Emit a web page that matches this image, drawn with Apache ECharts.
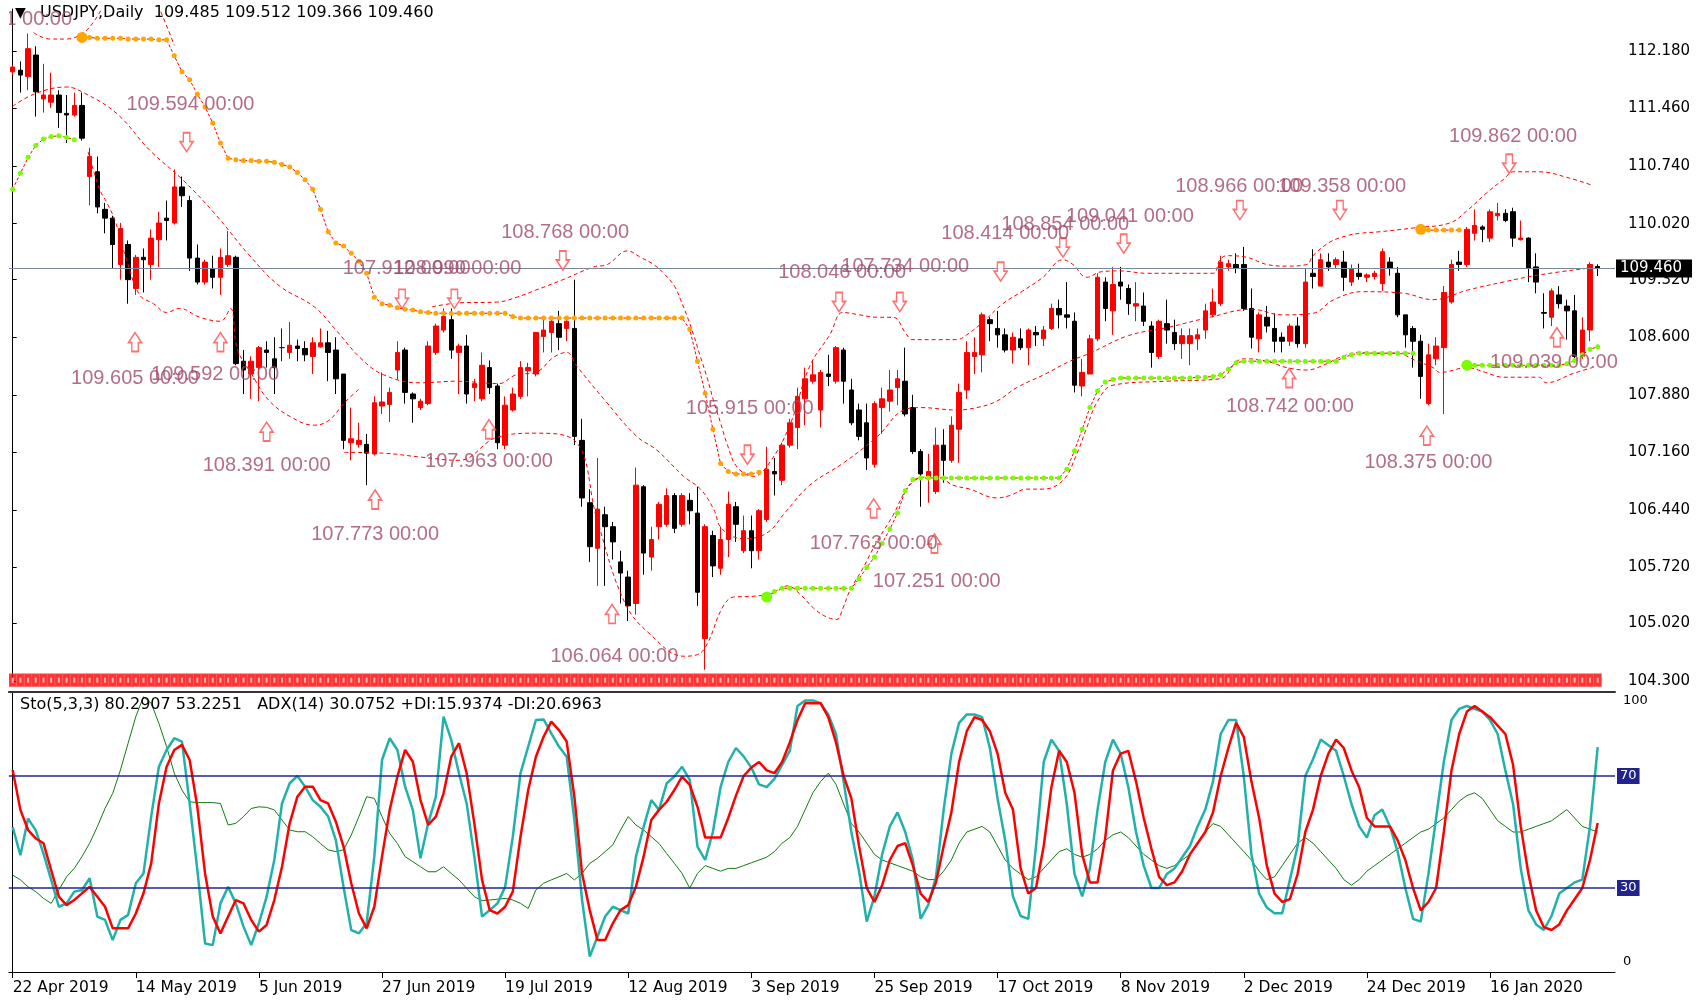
<!DOCTYPE html>
<html>
<head>
<meta charset="utf-8">
<script src="https://cdn.jsdelivr.net/npm/echarts@6/dist/echarts.min.js"></script>
<style>
  html, body { margin: 0; padding: 0; background: #fff; }
  #chart { width: 1704px; height: 1000px; }
</style>
</head>
<body>
<div id="chart"></div>
<script>
// --- data ---
const symbolTitle = 'USDJPY,Daily  109.485 109.512 109.366 109.460'
const indicatorTitle = 'Sto(5,3,3) 80.2907 53.2251   ADX(14) 30.0752 +DI:15.9374 -DI:20.6963'

const dateBars = [0, 16, 32, 48, 64, 80, 96, 112, 128, 144, 160, 176, 192]
const dateLabels = ['22 Apr 2019', '14 May 2019', '5 Jun 2019', '27 Jun 2019', '19 Jul 2019', '12 Aug 2019',
  '3 Sep 2019', '25 Sep 2019', '17 Oct 2019', '8 Nov 2019', '2 Dec 2019', '24 Dec 2019', '16 Jan 2020']

const priceTicks = [104.30, 105.02, 105.72, 106.44, 107.16, 107.88, 108.60, 109.32, 110.02, 110.74, 111.46, 112.18]
const lastPrice = 109.46
const stochLevels = [70, 30]
const bandLevel = 104.31

const opens = [
  111.92, 111.94, 111.86, 112.13, 111.58, 111.54, 111.63, 111.40, 111.38, 111.50,
  110.61, 110.67, 110.20, 110.09, 109.51, 109.76, 109.21, 109.60, 109.51, 109.82,
  110.09, 110.03, 110.48, 110.31, 109.59, 109.29, 109.46, 109.35, 109.51, 109.60,
  108.30, 108.14, 108.22, 108.44, 108.33, 108.47, 108.41, 108.49, 108.46, 108.36,
  108.48, 108.53, 108.44, 108.14, 107.28, 107.26, 107.26, 107.14, 107.74, 107.76,
  108.19, 108.44, 107.89, 107.72, 107.77, 108.41, 108.69, 108.82, 108.41, 108.49,
  107.97, 107.83, 108.22, 107.99, 107.25, 107.69, 107.86, 108.18, 108.14, 108.61,
  108.66, 108.77, 108.71, 108.71, 107.31, 106.53, 105.96, 106.38, 106.23, 105.79,
  105.60, 105.27, 106.73, 105.85, 106.23, 106.26, 106.62, 106.26, 106.56, 106.40,
  104.83, 106.12, 105.71, 106.07, 106.48, 105.93, 106.18, 105.93, 106.32, 106.92,
  106.81, 107.25, 107.47, 107.83, 108.05, 107.69, 108.14, 108.05, 108.44, 107.94,
  107.69, 107.53, 107.01, 107.72, 107.80, 107.97, 108.05, 107.72, 107.17, 106.86,
  106.67, 107.25, 107.06, 107.45, 107.94, 108.36, 108.38, 108.82, 108.71, 108.63,
  108.44, 108.58, 108.47, 108.66, 108.58, 108.71, 108.96, 108.88, 108.80, 107.99,
  108.14, 108.58, 109.29, 108.93, 109.29, 109.21, 108.99, 108.99, 108.74, 108.36,
  108.77, 108.66, 108.52, 108.52, 108.58, 108.69, 108.88, 109.02, 109.48, 109.51,
  109.51, 108.96, 108.58, 108.85, 108.71, 108.60, 108.55, 108.74, 108.52, 109.40,
  109.24, 109.54, 109.51, 109.54, 109.29, 109.40, 109.35, 109.36, 109.27, 109.54,
  109.40, 108.88, 108.71, 108.55, 107.77, 108.33, 108.47, 109.04, 109.54, 109.51,
  109.90, 109.98, 109.84, 110.12, 110.15, 110.17, 109.82, 109.84, 109.48, 108.91,
  108.85, 109.13, 108.99, 108.93, 108.36, 108.69, 109.485
]
const highs = [
  112.00, 112.05, 112.40, 112.24, 112.02, 111.91, 111.69, 111.63, 111.66, 111.66,
  110.97, 110.86, 110.28, 110.12, 110.03, 109.81, 109.63, 109.71, 109.95, 110.17,
  110.31, 110.70, 110.61, 110.37, 109.76, 109.57, 109.62, 109.71, 109.93, 109.62,
  108.44, 108.36, 108.49, 108.55, 108.60, 108.71, 108.79, 108.57, 108.55, 108.60,
  108.71, 108.68, 108.60, 108.14, 107.72, 107.53, 107.39, 107.86, 108.16, 107.97,
  108.55, 108.47, 107.91, 107.83, 108.55, 108.77, 108.96, 108.96, 108.52, 108.63,
  108.08, 108.41, 108.31, 108.02, 107.86, 107.97, 108.30, 108.28, 108.66, 108.85,
  108.85, 108.93, 108.85, 109.32, 107.58, 106.70, 107.09, 106.48, 106.29, 105.93,
  105.68, 106.97, 106.75, 106.23, 106.54, 106.71, 106.65, 106.65, 106.65, 106.73,
  106.26, 106.18, 106.23, 106.67, 106.54, 106.37, 106.37, 106.45, 107.23, 107.09,
  107.28, 107.58, 107.97, 108.22, 108.30, 108.19, 108.38, 108.49, 108.47, 108.08,
  107.77, 107.77, 107.80, 107.97, 108.19, 108.19, 108.47, 107.88, 107.20, 107.14,
  107.47, 107.45, 107.61, 108.02, 108.55, 108.60, 108.91, 108.85, 108.93, 108.71,
  108.66, 108.71, 108.71, 108.74, 108.74, 109.02, 109.07, 109.29, 108.91, 108.33,
  108.63, 109.40, 109.35, 109.48, 109.48, 109.26, 109.29, 109.16, 108.80, 108.82,
  109.07, 108.82, 108.71, 108.71, 108.71, 109.02, 109.21, 109.62, 109.57, 109.65,
  109.73, 109.21, 108.91, 108.99, 108.90, 108.66, 108.77, 108.85, 109.46, 109.70,
  109.65, 109.65, 109.60, 109.68, 109.51, 109.52, 109.40, 109.43, 109.71, 109.60,
  109.48, 108.88, 108.74, 108.63, 108.52, 108.60, 109.24, 109.57, 109.68, 109.98,
  110.20, 110.00, 110.20, 110.28, 110.20, 110.22, 110.06, 109.85, 109.65, 109.15,
  109.21, 109.24, 109.07, 109.13, 108.85, 109.54, 109.512
]
const lows = [
  111.88, 111.66, 111.69, 111.36, 111.41, 111.47, 111.22, 111.03, 111.36, 111.06,
  110.25, 110.15, 109.90, 109.46, 109.32, 109.02, 109.13, 109.16, 109.32, 109.48,
  109.81, 110.01, 110.23, 109.43, 109.26, 109.26, 109.21, 109.13, 109.48, 108.25,
  107.89, 107.83, 107.80, 108.22, 107.89, 108.30, 108.33, 108.30, 108.30, 108.14,
  108.47, 108.05, 107.89, 107.20, 107.06, 107.22, 106.75, 107.12, 107.64, 107.54,
  108.07, 107.77, 107.53, 107.69, 107.75, 108.38, 108.66, 108.33, 107.89, 107.77,
  107.80, 107.80, 107.89, 107.20, 107.20, 107.67, 107.83, 107.86, 108.11, 108.41,
  108.41, 108.44, 108.55, 107.25, 106.48, 105.79, 105.49, 105.49, 105.82, 105.27,
  105.05, 105.13, 105.63, 105.68, 106.07, 106.23, 106.15, 106.23, 106.26, 105.24,
  104.44, 105.60, 105.63, 105.85, 106.04, 105.90, 105.71, 105.82, 106.29, 106.62,
  106.75, 107.22, 107.20, 107.50, 108.02, 107.47, 107.99, 108.02, 107.77, 107.50,
  107.31, 106.94, 106.97, 107.39, 107.67, 107.75, 107.61, 107.14, 106.48, 106.53,
  106.64, 106.78, 107.03, 107.03, 107.83, 108.14, 108.16, 108.55, 108.47, 108.41,
  108.27, 108.44, 108.25, 108.49, 108.49, 108.69, 108.71, 108.71, 107.91, 107.86,
  108.14, 108.55, 108.80, 108.63, 109.07, 108.88, 108.80, 108.74, 108.22, 108.33,
  108.52, 108.44, 108.33, 108.25, 108.44, 108.58, 108.85, 108.99, 109.43, 109.40,
  108.93, 108.46, 108.41, 108.66, 108.41, 108.41, 108.49, 108.47, 108.47, 109.21,
  109.24, 109.43, 109.46, 109.18, 109.24, 109.32, 109.29, 109.32, 109.18, 109.37,
  108.85, 108.47, 108.22, 107.83, 107.75, 108.25, 107.64, 109.02, 109.43, 109.48,
  109.81, 109.79, 109.79, 110.06, 110.04, 109.73, 109.81, 109.29, 109.15, 108.71,
  108.74, 108.96, 108.57, 108.33, 108.33, 108.55, 109.366
]
const closes = [
  111.98, 111.88, 112.21, 111.67, 111.63, 111.63, 111.41, 111.38, 111.50, 111.09,
  110.86, 110.23, 110.09, 109.76, 109.96, 109.32, 109.60, 109.57, 109.84, 110.03,
  110.06, 110.48, 110.37, 109.59, 109.29, 109.54, 109.35, 109.60, 109.62, 108.27,
  108.19, 108.30, 108.47, 108.41, 108.22, 108.47, 108.50, 108.46, 108.38, 108.53,
  108.53, 108.41, 108.08, 107.31, 107.33, 107.31, 107.15, 107.78, 107.79, 107.91,
  108.41, 107.91, 107.83, 107.80, 108.49, 108.74, 108.86, 108.44, 108.49, 107.89,
  108.02, 108.25, 107.97, 107.28, 107.75, 107.89, 108.22, 108.22, 108.66, 108.69,
  108.80, 108.60, 108.80, 107.36, 106.59, 105.98, 106.45, 106.23, 106.04, 105.65,
  105.24, 106.75, 105.90, 106.07, 106.51, 106.62, 106.21, 106.62, 106.43, 105.41,
  106.23, 105.74, 106.07, 106.51, 106.26, 106.18, 105.93, 106.43, 106.95, 106.89,
  107.25, 107.53, 107.86, 108.08, 108.13, 108.16, 108.11, 108.47, 108.05, 107.53,
  107.36, 107.09, 107.77, 107.83, 107.94, 108.08, 107.64, 107.17, 106.89, 106.92,
  107.25, 107.06, 107.50, 107.91, 108.41, 108.41, 108.88, 108.77, 108.63, 108.44,
  108.60, 108.47, 108.69, 108.63, 108.69, 108.96, 108.88, 108.85, 108.00, 108.16,
  108.58, 109.35, 108.96, 109.26, 109.24, 109.02, 109.02, 108.80, 108.41, 108.80,
  108.69, 108.52, 108.62, 108.62, 108.63, 108.93, 109.04, 109.54, 109.52, 109.46,
  108.96, 108.60, 108.88, 108.74, 108.55, 108.55, 108.74, 108.52, 109.29, 109.36,
  109.57, 109.48, 109.57, 109.35, 109.46, 109.36, 109.38, 109.40, 109.67, 109.46,
  108.88, 108.63, 108.55, 108.11, 108.38, 108.49, 109.16, 109.51, 109.51, 109.95,
  110.00, 109.95, 110.17, 110.15, 110.06, 109.84, 109.84, 109.46, 109.29, 108.90,
  109.18, 109.02, 108.93, 108.36, 108.69, 109.51, 109.460
]

// trailing stop dots (resistance = orange, support = green), one value per bar
const resistSegments = [
  { start: 9, big: true, values: [
    112.35, 112.35, 112.34, 112.34, 112.34, 112.34, 112.33, 112.33, 112.33, 112.33, 112.32, 112.32,
    112.12, 111.92, 111.82, 111.64, 111.48, 111.28, 111.03, 110.84,
    110.82, 110.81, 110.81, 110.80, 110.80, 110.79,
    110.76, 110.73, 110.66, 110.57, 110.45, 110.20, 109.92, 109.78, 109.74, 109.65,
    109.55, 109.40, 109.10, 109.02, 109.00, 108.97, 108.95, 108.94, 108.92, 108.91,
    108.90, 108.90, 108.90, 108.90, 108.90, 108.90, 108.90, 108.90, 108.90, 108.90,
    108.86,
    108.84, 108.84, 108.84, 108.84, 108.84, 108.84, 108.84, 108.84, 108.84, 108.84, 108.84,
    108.84, 108.84, 108.84, 108.84, 108.84, 108.84, 108.84, 108.84, 108.84, 108.84, 108.84,
    108.70, 108.30, 107.90, 107.45, 107.02, 106.92, 106.89, 106.89, 106.89, 106.91] },
  { start: 183, big: true, values: [109.95, 109.94, 109.94, 109.94, 109.94, 109.94] }
]
const supportSegments = [
  { start: 0, big: false, values: [110.45, 110.65, 110.85, 111.00, 111.08, 111.11, 111.12, 111.10, 111.07] },
  { start: 98, big: true, values: [
    105.35, 105.42,
    105.46, 105.46, 105.46, 105.46, 105.46, 105.46, 105.46, 105.46, 105.46, 105.46,
    105.58, 105.72, 105.85, 106.02, 106.20, 106.40, 106.68, 106.82,
    106.84, 106.84, 106.84, 106.84, 106.84, 106.84, 106.84, 106.84, 106.84, 106.84,
    106.84, 106.84, 106.84, 106.84, 106.84, 106.84, 106.84, 106.84, 106.84,
    106.95, 107.18, 107.45, 107.72, 107.93, 108.04, 108.07,
    108.09, 108.09, 108.09, 108.09, 108.09, 108.09, 108.09, 108.09, 108.09, 108.09, 108.10, 108.10, 108.11,
    108.13, 108.20, 108.28,
    108.30, 108.30, 108.30, 108.30, 108.30, 108.30, 108.30, 108.30, 108.30, 108.30, 108.30, 108.30, 108.30,
    108.35, 108.38,
    108.40, 108.40, 108.40, 108.40, 108.40, 108.40, 108.40, 108.40] },
  { start: 189, big: true, values: [
    108.25, 108.25, 108.25, 108.25, 108.25, 108.25, 108.25, 108.25, 108.25, 108.25, 108.25, 108.25, 108.25,
    108.27, 108.31, 108.38, 108.45, 108.48] }
]

// dashed channel lines, knots as [bar, price]
const bandLines = [
  [[0, 111.49], [3, 111.65], [7, 111.73], [9.2, 111.66], [13.5, 111.40], [17.8, 110.94], [22.2, 110.56],
   [26.5, 110.12], [30.8, 109.62], [34.7, 109.24], [39.2, 108.98], [42.1, 108.68], [45.1, 108.35],
   [48.2, 108.13], [53, 108.03], [57.7, 108.05], [63.2, 108.02], [65.4, 108.13], [68, 108.16],
   [70.3, 108.35], [72, 108.41], [73.3, 108.24], [76.8, 107.83], [81.1, 107.36], [83.7, 107.19],
   [87.2, 106.86], [89.4, 106.70], [91.1, 106.45], [92.2, 106.20], [95, 106.08], [98, 106.15],
   [100.5, 106.42], [103.6, 106.75], [108, 107.03], [112.4, 107.36], [115.8, 107.69], [118, 107.72],
   [122.7, 107.69], [125.3, 107.72], [127.9, 107.80], [130.5, 107.97], [134, 108.13], [137.4, 108.30],
   [140, 108.40], [145, 108.62], [150, 108.72], [155.6, 108.85], [161, 108.95], [165, 108.88],
   [169, 108.90], [171.7, 109.07], [175.4, 109.17], [180.8, 109.15], [184.6, 109.07], [189.1, 109.19],
   [193.7, 109.29], [198.4, 109.38], [205.3, 109.47]],
  [[54.5, 108.98], [58, 109.03], [63, 109.04], [65.5, 109.10], [68, 109.19], [71.5, 109.32],
   [75.5, 109.48], [77.3, 109.51], [79.9, 109.68], [81.6, 109.60], [83.3, 109.51], [84.6, 109.40],
   [86, 109.24], [86.8, 109.07], [87.7, 108.85], [88.5, 108.63], [89.4, 108.35], [90.3, 108.08],
   [91.1, 107.80], [92, 107.53], [92.9, 107.25], [94.2, 106.97], [96.3, 106.86], [98.5, 107.05],
   [101, 107.5], [103.6, 108.24], [106.2, 108.63], [107.9, 108.91], [110.1, 108.88], [112.3, 108.85],
   [114.4, 108.85], [116.2, 108.63], [117, 108.57], [120.1, 108.57], [122.7, 108.57], [124, 108.63],
   [126.1, 108.79], [128.7, 109.02], [131.3, 109.18], [133.9, 109.35], [136.5, 109.57], [137.8, 109.51],
   [139.6, 109.35], [141.5, 109.42], [143.9, 109.43], [147.4, 109.40], [151.7, 109.40], [156, 109.40],
   [156.9, 109.57], [157.8, 109.62], [160.4, 109.60], [163, 109.51], [165.6, 109.49], [168.2, 109.51],
   [169, 109.62], [171.2, 109.79], [173.4, 109.87], [175.1, 109.90], [177.7, 109.92], [182.3, 109.97],
   [186.8, 110.03], [189.1, 110.19], [191.5, 110.40], [193.7, 110.57], [195.1, 110.67], [198.4, 110.67],
   [202, 110.60], [205.3, 110.50]],
  [[9.8, 110.92], [11.3, 110.45], [12.2, 110.29], [13.3, 110.06], [14.8, 109.57], [16.5, 109.13],
   [18.3, 109.02], [20, 108.91], [21.7, 108.96], [24.3, 108.85], [27, 108.80], [28.3, 108.96],
   [29.2, 108.45], [31, 108.15], [33.2, 107.82], [36.2, 107.60], [39.2, 107.50], [41.1, 107.56],
   [43.1, 107.78], [45, 107.95]],
  [[43.1, 107.16], [48.1, 107.15], [53.1, 107.10], [58, 107.06], [63, 107.35], [68, 107.40], [73, 107.31],
   [76, 106.30], [79.6, 105.27], [82.9, 104.88], [87.2, 104.61], [89, 104.63], [90.3, 104.77],
   [92.2, 105.21], [93.7, 105.35], [96.3, 105.36], [98.9, 105.40], [100.7, 105.49], [102.4, 105.38],
   [104.1, 105.21], [105.8, 105.10], [107.1, 105.07], [107.9, 105.21], [108.8, 105.43], [110.5, 105.71],
   [112.3, 106.04], [114.4, 106.37], [116.2, 106.70], [117.9, 106.84], [120.1, 106.86], [122.2, 106.75],
   [124.4, 106.70], [127.9, 106.59], [129.6, 106.62], [131.8, 106.70], [133.9, 106.70], [136.5, 106.81],
   [138.3, 107.14], [139.6, 107.47], [141, 107.80], [143, 108.00], [150, 108.05], [156.9, 108.08],
   [159.1, 108.30], [160.4, 108.33], [163, 108.30], [165.6, 108.22], [168.2, 108.19], [170.8, 108.27],
   [172.5, 108.35], [175.1, 108.41], [177.2, 108.40], [179.9, 108.40], [182.3, 108.31], [184.6, 108.22],
   [185.5, 108.16], [189.1, 108.22], [191.4, 108.16], [193.7, 108.10], [198.4, 108.10], [199.3, 108.03],
   [202.9, 108.15], [205.3, 108.22]],
  [[2.7, 112.41], [4.85, 112.33], [7, 112.33], [9.2, 112.41], [10.7, 112.57], [11.8, 112.75]],
  [[18.9, 112.75], [20.2, 112.45], [21, 112.25]]
]

// fractal arrows [bar, price]
const arrowsDown = [[22.6, 111.04], [50.6, 109.08], [57.4, 109.08], [71.5, 109.56], [95.5, 107.13],
  [107.4, 109.04], [115.3, 109.04], [128.4, 109.42], [136.5, 109.72], [144.4, 109.77],
  [159.5, 110.19], [172.5, 110.19], [194.5, 110.77]]
const arrowsUp = [[15.9, 108.54], [27, 108.54], [33, 107.42], [47.1, 106.57], [61.9, 107.45],
  [77.9, 105.14], [111.9, 106.46], [119.8, 106.02], [165.9, 108.09], [183.8, 107.37], [200.7, 108.60]]
// fractal text labels [bar, price, text]
const fractalLabels = [
  [-0.5, 112.57, '112.401 00:00'],
  [23.1, 111.51, '109.594 00:00'], [15.9, 108.09, '109.605 00:00'], [26.3, 108.13, '109.592 00:00'],
  [33, 107.00, '108.391 00:00'], [47.1, 106.13, '107.773 00:00'], [51.2, 109.46, '107.912 00:00'],
  [57.8, 109.46, '108.990 00:00'], [61.9, 107.04, '107.963 00:00'], [71.8, 109.91, '108.768 00:00'],
  [78.2, 104.61, '106.064 00:00'], [95.8, 107.71, '105.915 00:00'], [107.8, 109.41, '108.046 00:00'],
  [116, 109.49, '107.734 00:00'], [111.9, 106.02, '107.763 00:00'], [120.1, 105.55, '107.251 00:00'],
  [129, 109.90, '108.414 00:00'], [136.8, 110.01, '108.854 00:00'], [145.2, 110.11, '109.041 00:00'],
  [159.4, 110.48, '108.966 00:00'], [172.8, 110.49, '109.358 00:00'], [166, 107.73, '108.742 00:00'],
  [195, 111.11, '109.862 00:00'], [184, 107.03, '108.375 00:00'], [200.3, 108.28, '109.039 00:00']
]

const stochMain = [
  51.8, 41.7, 54.8, 50.6, 42.3, 32.9, 23.3, 24.5, 28.7, 29.3,
  33.5, 19.8, 18.6, 11.4, 18.6, 20.4, 31.7, 35.2, 55.5, 73.3,
  79.3, 83.5, 82.3, 60.2, 36.4, 10.2, 9.6, 24.5, 30.4, 24.5,
  16.2, 9.6, 17.4, 26.9, 40.0, 60.2, 67.4, 70.0, 66.2, 61.4,
  59.0, 55.5, 47.1, 30.4, 15.0, 13.8, 17.4, 41.2, 75.7, 83.5,
  79.3, 66.2, 57.9, 40.6, 53.1, 62.6, 91.2, 82.9, 71.0, 60.2,
  41.2, 19.8, 22.1, 24.5, 30.4, 48.3, 71.0, 80.5, 90.0, 90.2,
  85.2, 80.5, 76.9, 54.3, 25.7, 5.5, 12.6, 19.8, 23.3, 22.1,
  20.9, 41.2, 51.8, 61.4, 57.9, 67.4, 69.8, 73.3, 68.6, 44.8,
  40, 50, 66, 75, 80, 77, 73, 67, 66, 69,
  74, 79, 95, 97, 97, 96, 92, 85, 68, 50,
  36, 18, 27, 42, 52, 57, 50, 40, 19, 24,
  34, 58, 78, 89, 92, 92, 91, 80, 62, 47,
  27, 20, 19, 45, 75, 83, 79, 60, 35, 27,
  37, 58, 75, 83, 78, 66, 50, 38, 30, 30,
  35, 37, 41, 45, 52, 58, 68, 85, 90, 90,
  70, 42, 28, 23, 21, 21, 33, 45, 70, 76,
  83, 81, 79, 70, 60, 52, 48, 56, 58, 52,
  43, 30, 19, 18, 35, 55, 75, 90, 94, 95,
  94, 93, 90, 85, 72, 60, 37, 22, 17, 15,
  20, 28, 30, 32, 33, 52, 80.29
]
const stochSignal = [
  72.1, 57.9, 50.7, 47.7, 46.0, 36.4, 26.9, 23.9, 25.7, 28.1,
  30.4, 26.9, 23.3, 15.6, 15.6, 15.6, 20.9, 28.1, 38.8, 60.2,
  73.3, 79.3, 81.1, 75.7, 59.0, 35.2, 19.8, 13.8, 19.8, 25.7,
  24.5, 18.6, 14.4, 16.8, 25.7, 37.6, 53.1, 62.6, 66.2, 66.2,
  61.4, 60.2, 53.7, 44.8, 31.7, 20.9, 15.6, 23.3, 41.2, 57.9,
  69.8, 79.3, 75.2, 61.4, 52.5, 55.5, 63.8, 76.9, 81.7, 71.0,
  53.1, 32.9, 22.1, 20.9, 23.3, 28.7, 48.3, 65.0, 76.9, 84.0,
  89.4, 86.4, 82.3, 62.6, 35.2, 22.1, 11.4, 11.4, 17.4, 22.1,
  23.9, 30.4, 41.2, 54.3, 57.9, 60.8, 65.0, 69.8, 66.8, 59.0,
  48, 48, 48, 55, 63, 70, 73, 75, 72, 71,
  75, 82, 90, 96, 96, 96, 91, 82, 70, 62,
  45, 30, 25, 31, 40, 45, 46, 38, 28, 25,
  32, 45, 57, 75, 86, 91, 90, 86, 78, 64,
  58, 37, 28, 30, 45, 66, 79, 75, 64, 42,
  32, 32, 48, 72, 78, 79, 68, 55, 44, 34,
  31, 32, 36, 42, 46, 50, 57, 70, 80, 89,
  84, 68, 55, 38, 28, 25, 26, 35, 50, 58,
  70, 78, 83, 80, 72, 66, 55, 52, 52, 52,
  47, 40, 30, 22, 25, 30, 50, 72, 85, 93,
  95, 93, 91, 88, 85, 74, 52, 35, 22, 16,
  15, 17, 22, 26, 30, 40, 53.23
]
const adxLine = [
  34.6, 32.9, 30.4, 28.7, 26.3, 24.5, 29.3, 34.0, 37.0, 41.2,
  46.0, 51.9, 58.4, 63.8, 72.1, 81.7, 91.2, 98.3, 96.0, 88.8,
  80.5, 71.0, 65.0, 60.8, 60.5, 60.5, 60.5, 60.2, 52.5, 53.1,
  55.5, 58.4, 59.0, 58.8, 57.9, 54.3, 50.7, 50.1, 50.1, 48.3,
  45.9, 43.6, 43.0, 43.6, 48.9, 55.5, 62.6, 62.0, 55.5, 49.5,
  45.9, 41.2, 39.4, 37.6, 35.8, 35.8, 37.6, 35.2, 32.9, 29.9,
  26.9, 25.5, 25.7, 26.0, 26.3, 25.7, 24.5, 22.7, 29.3, 31.7,
  32.9, 34.0, 35.2, 32.9, 35.2, 38.8, 40.6, 43.0, 45.4, 50.7,
  55.5, 52.5, 50.7, 48.3, 45.9, 42.3, 38.8, 35.2, 29.9, 35.2,
  38, 37, 36, 37, 37, 38, 39, 40, 41, 43,
  46, 48, 52, 58, 64, 68, 71, 67, 60, 53,
  50, 46, 42, 40, 39, 38, 37, 36, 34, 33,
  33, 36, 40, 46, 50, 51, 52, 50, 45, 40,
  37, 35, 33, 34, 37, 40, 43, 44, 42, 41,
  42, 44, 47, 49, 50, 48, 45, 42, 40, 38,
  37, 38, 40, 42, 46, 50, 53, 52, 49, 46,
  43, 40, 36, 33, 34, 38, 42, 46, 48, 46,
  43, 40, 37, 33, 31, 33, 36, 38, 40, 42,
  44, 46, 48, 50, 51, 53, 55, 58, 61, 63,
  64, 62, 58, 54, 52, 50, 50, 51, 52, 53,
  54, 56, 58, 55, 52, 51, 50
]

// --- chart ---
const chart = echarts.init(document.getElementById('chart'))
const FONT = 'DejaVu Sans'
const X_MIN = -0.5
const X_MAX = 208.25

const candleData = opens.map((o, i) => {
  const item = { value: [i, o, closes[i], lows[i], highs[i]] }
  if (o === closes[i]) {
    item.itemStyle = { color: '#0000ff', color0: '#0000ff', borderColor: '#0000ff', borderColor0: '#0000ff' }
  }
  return item
})

const downArrow = 'path://M3,0 L9,0 L9,8 L12,8 L6,17 L0,8 L3,8 Z'

const series = []

// red marker strip at the foot of the price pane
series.push({
  type: 'scatter', xAxisIndex: 0, yAxisIndex: 0, silent: true, clip: false, z: 1,
  symbol: 'rect', symbolSize: [7.7, 13],
  itemStyle: { color: '#ff0000', borderColor: '#ff6a6a', borderWidth: 0.6 },
  data: opens.map((_, i) => [i, bandLevel])
})
series.push({
  type: 'scatter', xAxisIndex: 0, yAxisIndex: 0, silent: true, clip: false, z: 1,
  symbol: 'rect', symbolSize: [2, 5],
  itemStyle: { color: '#ffd0d0' },
  data: opens.map((_, i) => [i, bandLevel])
})

series.push({
  type: 'candlestick', xAxisIndex: 0, yAxisIndex: 0, z: 3,
  barWidth: 5,
  encode: { x: 0, y: [1, 2, 3, 4] },
  itemStyle: { color: '#ff0000', color0: '#000000', borderColor: '#ff0000', borderColor0: '#000000', borderWidth: 1 },
  data: candleData,
  markLine: {
    silent: true, symbol: 'none',
    lineStyle: { color: '#778899', type: 'solid', width: 1 },
    label: {
      show: true, position: 'end', distance: 1,
      formatter: lastPrice.toFixed(3),
      backgroundColor: '#000', color: '#fff', fontFamily: FONT, fontSize: 15, padding: [2, 10, 1, 4]
    },
    data: [{ yAxis: lastPrice }]
  }
})

bandLines.forEach((pts) => {
  series.push({
    type: 'line', xAxisIndex: 0, yAxisIndex: 0, z: 4, silent: true,
    smooth: 0.4, symbol: 'none',
    lineStyle: { color: '#ff0000', width: 1, type: [4, 3] },
    data: pts
  })
})

function trailSeries (seg, dotColor) {
  return {
    type: 'line', xAxisIndex: 0, yAxisIndex: 0, z: 5, silent: true,
    symbol: 'circle',
    symbolSize: (v, p) => (seg.big && p.dataIndex === 0 ? 11 : 5),
    itemStyle: { color: dotColor },
    lineStyle: { color: '#ff0000', width: 1, type: [3, 2] },
    data: seg.values.map((v, k) => [seg.start + k, v])
  }
}
resistSegments.forEach((s) => series.push(trailSeries(s, '#ffa500')))
supportSegments.forEach((s) => series.push(trailSeries(s, '#7cfc00')))

series.push({
  type: 'scatter', xAxisIndex: 0, yAxisIndex: 0, z: 6, silent: true, clip: false,
  symbol: downArrow, symbolSize: [13, 19],
  itemStyle: { color: '#ffffff', borderColor: '#ff4d4d', borderWidth: 1.6 },
  data: arrowsDown
})
series.push({
  type: 'scatter', xAxisIndex: 0, yAxisIndex: 0, z: 6, silent: true, clip: false,
  symbol: downArrow, symbolSize: [13, 19], symbolRotate: 180,
  itemStyle: { color: '#ffffff', borderColor: '#ff4d4d', borderWidth: 1.6 },
  data: arrowsUp
})
series.push({
  type: 'scatter', xAxisIndex: 0, yAxisIndex: 0, z: 7, silent: true, clip: false,
  symbolSize: 0,
  label: {
    show: true, position: 'inside', formatter: '{b}',
    color: '#a04a66', fontFamily: 'Liberation Sans', fontSize: 20
  },
  data: fractalLabels.map(([x, y, t]) => ({ value: [x, y], name: t }))
})

// stochastic / ADX pane
series.push({
  type: 'line', xAxisIndex: 1, yAxisIndex: 1, z: 2, silent: true, symbol: 'none',
  lineStyle: { color: '#137a13', width: 1 },
  data: adxLine.map((v, i) => [i, v])
})
series.push({
  type: 'line', xAxisIndex: 1, yAxisIndex: 1, z: 3, silent: true, symbol: 'none',
  lineStyle: { color: '#20b2aa', width: 2.5 },
  data: stochMain.map((v, i) => [i, v]),
  markLine: {
    silent: true, symbol: 'none',
    lineStyle: { color: '#23238f', type: 'solid', width: 1.5 },
    label: {
      show: true, position: 'end', distance: 2, formatter: '{c}',
      backgroundColor: '#23238f', color: '#fff', fontFamily: FONT, fontSize: 13, padding: [2, 3, 1, 3]
    },
    data: stochLevels.map((v) => ({ yAxis: v }))
  }
})
series.push({
  type: 'line', xAxisIndex: 1, yAxisIndex: 1, z: 4, silent: true, symbol: 'none',
  lineStyle: { color: '#ff0000', width: 2.5 },
  data: stochSignal.map((v, i) => [i, v])
})

const option = {
  animation: false,
  backgroundColor: '#ffffff',
  textStyle: { fontFamily: FONT },
  title: [
    { text: '▼', left: 15, top: 6, padding: 0, textStyle: { fontFamily: FONT, fontSize: 14, color: '#000', fontWeight: 'normal' } },
    { text: symbolTitle, left: 40, top: 5, padding: 0, textStyle: { fontFamily: FONT, fontSize: 16, color: '#000', fontWeight: 'normal' } },
    { text: indicatorTitle, left: 20, top: 697, padding: 0, textStyle: { fontFamily: FONT, fontSize: 16, color: '#000', fontWeight: 'normal' } }
  ],
  grid: [
    { left: 8.85, right: 89, top: 9, height: 672 },
    { left: 8.85, right: 89, top: 692, height: 280 }
  ],
  xAxis: [
    { type: 'value', gridIndex: 0, min: X_MIN, max: X_MAX, show: false },
    {
      type: 'value', gridIndex: 1, min: X_MIN, max: X_MAX,
      splitLine: { show: false },
      axisLine: { show: true, onZero: false, lineStyle: { color: '#000', width: 1 } },
      axisTick: { show: true, customValues: dateBars, length: 6, lineStyle: { color: '#000' } },
      axisLabel: {
        customValues: dateBars, formatter: (v) => dateLabels[dateBars.indexOf(v)],
        align: 'left', margin: 8, color: '#000', fontFamily: FONT, fontSize: 15.5
      }
    },
    {
      type: 'value', gridIndex: 1, min: X_MIN, max: X_MAX, position: 'top',
      splitLine: { show: false }, axisTick: { show: false }, axisLabel: { show: false },
      axisLine: { show: true, onZero: false, lineStyle: { color: '#333', width: 2 } }
    }
  ],
  yAxis: [
    {
      type: 'value', gridIndex: 0, position: 'right', min: 104.3, max: 112.706,
      splitLine: { show: false },
      axisLine: { show: true, lineStyle: { color: '#000', width: 1 } },
      axisTick: { show: true, customValues: priceTicks, length: 4, lineStyle: { color: '#000' } },
      axisLabel: {
        customValues: priceTicks, formatter: (v) => v.toFixed(3),
        margin: 13, color: '#000', fontFamily: FONT, fontSize: 15
      }
    },
    {
      type: 'value', gridIndex: 1, position: 'right', min: 0, max: 100,
      splitLine: { show: false },
      axisLine: { show: true, lineStyle: { color: '#000', width: 1 } },
      axisTick: { show: false },
      axisLabel: {
        customValues: [0, 100],
        formatter: (v) => (v === 100 ? '{t|100}' : '{b|0}'),
        margin: 8, color: '#000', fontFamily: FONT, fontSize: 13,
        rich: {
          t: { padding: [18, 0, 0, 0], fontFamily: FONT, fontSize: 13, color: '#000' },
          b: { padding: [0, 0, 20, 0], fontFamily: FONT, fontSize: 13, color: '#000' }
        }
      }
    }
  ],
  graphic: [
    { type: 'rect', left: 0, top: 0, shape: { width: 9, height: 690 }, style: { fill: '#ffffff' }, z: 100, silent: true }
  ],
  series: series
}

chart.setOption(option)
</script>
</body>
</html>
